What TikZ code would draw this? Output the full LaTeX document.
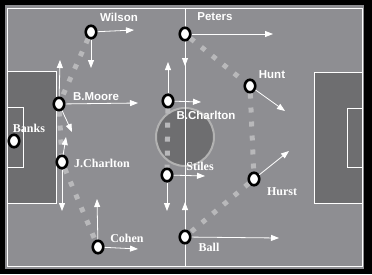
\documentclass[tikz,border=0pt]{standalone}
\usepackage{fontspec}
\setmainfont{Liberation Serif}
\newfontfamily\labsans{Liberation Sans}
\usepackage{tikz}
\usetikzlibrary{arrows.meta,shapes.geometric}
\definecolor{fldGrey}{HTML}{8E8E92}
\definecolor{boxGrey}{HTML}{6E6E70}
\definecolor{ringGrey}{HTML}{B2B2B2}
\definecolor{passGrey}{HTML}{B8B8BA}

\begin{document}
\begin{tikzpicture}[
  x=1pt,y=-1pt,
  player/.style={ellipse,draw=black,line width=2.6pt,fill=white,minimum width=10.5pt,minimum height=12.5pt,inner sep=0pt},
  pitchline/.style={draw=white,line width=.9pt},
  passline/.style={draw=passGrey,line width=5pt,dash pattern=on 5pt off 9pt},
  run/.style={draw=white,line width=.8pt,-{Triangle[length=8pt,width=6pt]}},
  sanslab/.style={font=\labsans\bfseries\fontsize{11.5}{12}\selectfont,text=white,inner sep=0pt},
  seriflab/.style={font=\bfseries\fontsize{12}{13}\selectfont,text=white,inner sep=0pt}
]
  \useasboundingbox (0,0) rectangle (372,274);
  \fill[black] (0,0) rectangle (372,274);
  % pitch
  \fill[fldGrey] (5,5) rectangle (364,269);
  \filldraw[fill=boxGrey,pitchline] (7,71) rectangle (56,203);
  \draw[pitchline] (7,107) rectangle (23,167);
  \filldraw[fill=boxGrey,pitchline] (314,72) rectangle (362,203);
  \draw[pitchline] (347,108) rectangle (362,167);
  \filldraw[fill=boxGrey,draw=ringGrey,line width=2pt] (185,137) circle (29);
  \draw[pitchline] (185,8) -- (185,266);
  \draw[pitchline] (7,8) rectangle (362,266);
  % players
  \node[player] (banks) at (14,141) {};
  \node[player] (wilson) at (91,32) {};
  \node[player] (moore) at (59,104) {};
  \node[player] (jcharlton) at (62,162) {};
  \node[player] (cohen) at (98,247) {};
  \node[player] (peters) at (185,34) {};
  \node[player] (bcharlton) at (168,101) {};
  \node[player] (stiles) at (167,175) {};
  \node[player] (ball) at (185,237) {};
  \node[player] (hunt) at (250,86) {};
  \node[player] (hurst) at (254,179) {};
  % passing chains
  \draw[passline] (wilson) -- (moore);
  \draw[passline] (moore) -- (jcharlton);
  \draw[passline] (jcharlton) -- (cohen);
  \draw[passline] (peters) -- (hunt);
  \draw[passline] (hunt) -- (hurst);
  \draw[passline] (hurst) -- (ball);
  \draw[passline] (bcharlton) -- (stiles);
  % runs
  \coordinate (wilsonR) at (134,30);
  \coordinate (wilsonD) at (91,68);
  \coordinate (mooreR) at (138,103);
  \coordinate (mooreU) at (60,60);
  \coordinate (mooreDR) at (72,132);
  \coordinate (jcharltonU) at (66,137);
  \coordinate (jcharltonD) at (62,211);
  \coordinate (cohenU) at (97,199);
  \coordinate (cohenR) at (138,249);
  \coordinate (petersR) at (273,34);
  \coordinate (petersD) at (185,66);
  \coordinate (bcharltonU) at (168,62);
  \coordinate (bcharltonR) at (201,102);
  \coordinate (stilesR) at (205,176);
  \coordinate (stilesD) at (167,211);
  \coordinate (ballR) at (279,238);
  \coordinate (ballU) at (185,202);
  \coordinate (huntDR) at (285,111);
  \coordinate (hurstUR) at (289,151);
  \draw[run] (wilson) -- (wilsonR);
  \draw[run] (wilson) -- (wilsonD);
  \draw[run] (moore) -- (mooreR);
  \draw[run] (moore) -- (mooreU);
  \draw[run] (moore) -- (mooreDR);
  \draw[run] (jcharlton) -- (jcharltonU);
  \draw[run] (jcharlton) -- (jcharltonD);
  \draw[run] (cohen) -- (cohenU);
  \draw[run] (cohen) -- (cohenR);
  \draw[run] (peters) -- (petersR);
  \draw[run] (peters) -- (petersD);
  \draw[run] (bcharlton) -- (bcharltonU);
  \draw[run] (bcharlton) -- (bcharltonR);
  \draw[run] (stiles) -- (stilesR);
  \draw[run] (stiles) -- (stilesD);
  \draw[run] (ball) -- (ballR);
  \draw[run] (ball) -- (ballU);
  \draw[run] (hunt) -- (huntDR);
  \draw[run] (hurst) -- (hurstUR);
  % names
  \node[seriflab] (bankslab) at (29,128) {Banks};
  \node[sanslab] (wilsonlab) at (119,17.5) {Wilson};
  \node[sanslab] (moorelab) at (96,97) {B.Moore};
  \node[seriflab] (jcharltonlab) at (102,163) {J.Charlton};
  \node[seriflab] (cohenlab) at (127,238) {Cohen};
  \node[sanslab] (peterslab) at (215,17) {Peters};
  \node[sanslab] (bcharltonlab) at (206,115) {B.Charlton};
  \node[seriflab] (stileslab) at (200,166) {Stiles};
  \node[seriflab] (balllab) at (209,247) {Ball};
  \node[sanslab] (huntlab) at (272,75) {Hunt};
  \node[seriflab] (hurstlab) at (282,192) {Hurst};
\end{tikzpicture}
\end{document}
